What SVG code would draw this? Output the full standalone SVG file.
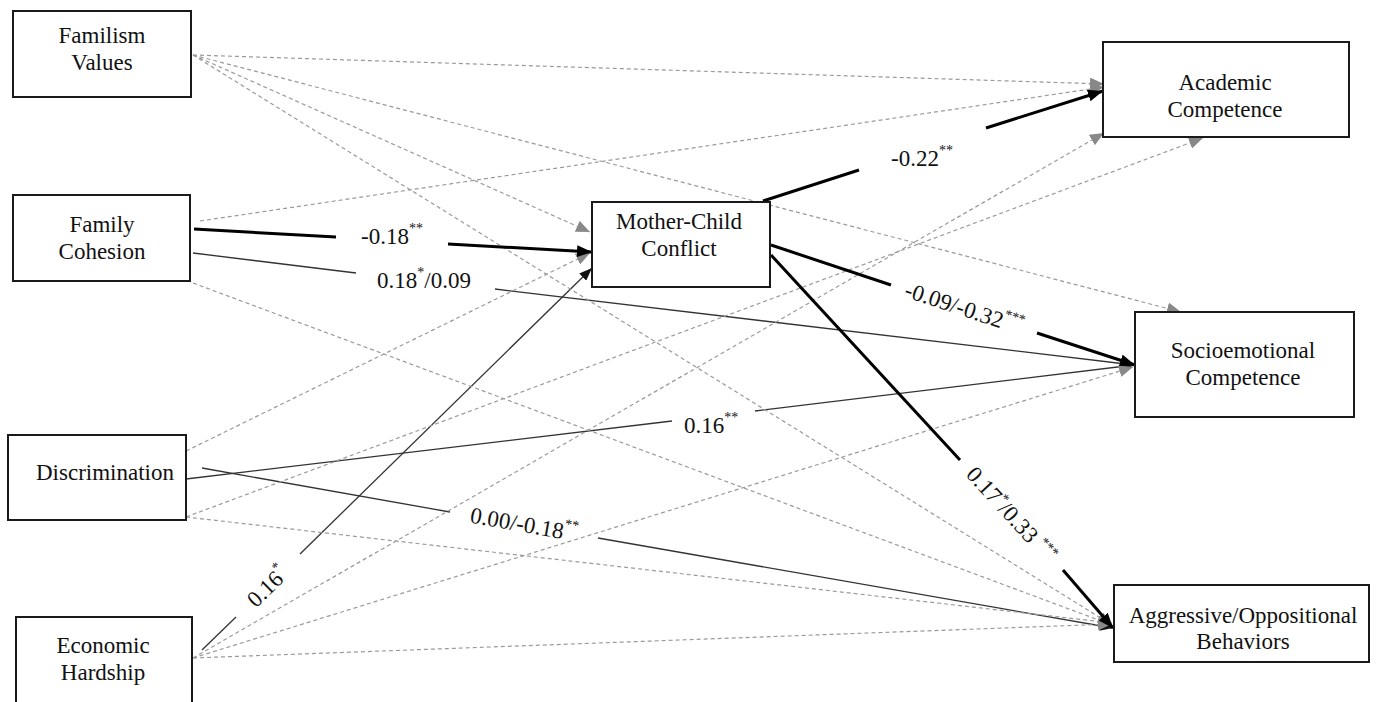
<svg xmlns="http://www.w3.org/2000/svg" width="1376" height="702" viewBox="0 0 1376 702">
<style>
.box{fill:#fff;stroke:#1a1a1a;stroke-width:2}
.nt{font-family:"Liberation Serif","Times New Roman",serif;font-size:23px;fill:#111;text-anchor:middle}
.lb{font-family:"Liberation Serif","Times New Roman",serif;font-size:23px;fill:#111}
.sup{font-size:14px}
.thick{stroke:#000;stroke-width:3;fill:none}
.thin{stroke:#333;stroke-width:1.3;fill:none}
.dash{stroke:#9a9a9a;stroke-width:1.2;stroke-dasharray:4 3;fill:none}
</style>
<defs>
<marker id="ab" markerUnits="userSpaceOnUse" markerWidth="16" markerHeight="12" refX="15" refY="6" orient="auto"><path d="M0,0 L15,6 L0,12 z" fill="#000"/></marker>
<marker id="at" markerUnits="userSpaceOnUse" markerWidth="14" markerHeight="10" refX="13" refY="5" orient="auto"><path d="M0,0 L13,5 L0,10 z" fill="#111"/></marker>
<marker id="ag" markerUnits="userSpaceOnUse" markerWidth="15" markerHeight="12" refX="14" refY="6" orient="auto"><path d="M0,0 L14,6 L0,12 z" fill="#888"/></marker>
</defs>
<rect width="1376" height="702" fill="#fff"/>
<g id="connectors">
<line class="thin" x1="193" y1="253" x2="356" y2="273"/>
<line class="thin" x1="495" y1="289" x2="1134" y2="365" marker-end="url(#at)"/>
<line class="thin" x1="186" y1="479" x2="672" y2="421"/>
<line class="thin" x1="755" y1="411" x2="1134" y2="365" marker-end="url(#at)"/>
<line class="thin" x1="202" y1="468" x2="450" y2="512"/>
<line class="thin" x1="598" y1="538" x2="1113" y2="628" marker-end="url(#at)"/>
<line class="thin" x1="202" y1="650" x2="236" y2="617"/>
<line class="thin" x1="300" y1="554" x2="592" y2="268" marker-end="url(#at)"/>
<line class="dash" x1="193" y1="55" x2="1104" y2="84" marker-end="url(#ag)"/>
<line class="dash" x1="193" y1="55" x2="590" y2="232" marker-end="url(#ag)"/>
<line class="dash" x1="193" y1="55" x2="1181" y2="312" marker-end="url(#ag)"/>
<line class="dash" x1="193" y1="55" x2="1112" y2="625" marker-end="url(#ag)"/>
<line class="dash" x1="200" y1="221" x2="1104" y2="87" marker-end="url(#ag)"/>
<line class="dash" x1="193" y1="283" x2="1112" y2="625" marker-end="url(#ag)"/>
<line class="dash" x1="186" y1="451" x2="590" y2="253" marker-end="url(#ag)"/>
<line class="dash" x1="186" y1="517" x2="1203" y2="138" marker-end="url(#ag)"/>
<line class="dash" x1="186" y1="517" x2="1112" y2="623" marker-end="url(#ag)"/>
<line class="dash" x1="193" y1="658" x2="1104" y2="133" marker-end="url(#ag)"/>
<line class="dash" x1="193" y1="658" x2="1133" y2="367" marker-end="url(#ag)"/>
<line class="dash" x1="193" y1="658" x2="1112" y2="624" marker-end="url(#ag)"/>
<line class="thick" x1="194" y1="229" x2="336" y2="237"/>
<line class="thick" x1="448" y1="244" x2="592" y2="252" marker-end="url(#ab)"/>
<line class="thick" x1="763" y1="201" x2="859" y2="170"/>
<line class="thick" x1="986" y1="128" x2="1103" y2="91" marker-end="url(#ab)"/>
<line class="thick" x1="771" y1="245" x2="891" y2="285"/>
<line class="thick" x1="1037" y1="333" x2="1135" y2="365" marker-end="url(#ab)"/>
<line class="thick" x1="771" y1="255" x2="960" y2="460"/>
<line class="thick" x1="1063" y1="570" x2="1113" y2="628" marker-end="url(#ab)"/>
<text class="lb" x="361" y="244">-0.18<tspan class="sup" dy="-11">**</tspan></text>
<text class="lb" x="377" y="288">0.18<tspan class="sup" dy="-11">*</tspan><tspan dy="11">/0.09</tspan></text>
<text class="lb" x="891" y="166">-0.22<tspan class="sup" dy="-11">**</tspan></text>
<text class="lb" x="684" y="433">0.16<tspan class="sup" dy="-11">**</tspan></text>
<text class="lb" transform="translate(964,309) rotate(18.3)" x="0" y="7" text-anchor="middle">-0.09/-0.32<tspan class="sup" dy="-11">***</tspan></text>
<text class="lb" transform="translate(1011,515) rotate(47.4)" x="0" y="7" text-anchor="middle">0.17<tspan class="sup" dy="-9">*</tspan><tspan dy="9">/0.33 </tspan><tspan class="sup" dy="-9">***</tspan></text>
<text class="lb" transform="translate(524,525) rotate(10)" x="0" y="7" text-anchor="middle">0.00/-0.18<tspan class="sup" dy="-11">**</tspan></text>
<text class="lb" transform="translate(268,587) rotate(-44.4)" x="0" y="7" text-anchor="middle">0.16<tspan class="sup" dy="-11">*</tspan></text>
</g>
<g id="familism"><rect class="box" x="13" y="11" width="178" height="86"/><text class="nt" x="102" y="43">Familism</text><text class="nt" x="102" y="70">Values</text></g>
<g id="cohesion"><rect class="box" x="13" y="195" width="177" height="86"/><text class="nt" x="102" y="232">Family</text><text class="nt" x="102" y="259">Cohesion</text></g>
<g id="discrimination"><rect class="box" x="8" y="435" width="178" height="85"/><text class="nt" x="105" y="480">Discrimination</text></g>
<g id="hardship"><rect class="box" x="16" y="617" width="176" height="92"/><text class="nt" x="103" y="653">Economic</text><text class="nt" x="103" y="680">Hardship</text></g>
<g id="conflict"><rect class="box" x="592" y="202" width="178" height="85"/><text class="nt" x="679" y="229">Mother-Child</text><text class="nt" x="679" y="256">Conflict</text></g>
<g id="academic"><rect class="box" x="1103" y="42" width="246" height="95"/><text class="nt" x="1225" y="90">Academic</text><text class="nt" x="1225" y="117">Competence</text></g>
<g id="socioemotional"><rect class="box" x="1135" y="312" width="219" height="105"/><text class="nt" x="1243" y="358">Socioemotional</text><text class="nt" x="1243" y="385">Competence</text></g>
<g id="aggressive"><rect class="box" x="1114" y="585" width="255" height="77"/><text class="nt" x="1243" y="623">Aggressive/Oppositional</text><text class="nt" x="1243" y="649">Behaviors</text></g>
</svg>
